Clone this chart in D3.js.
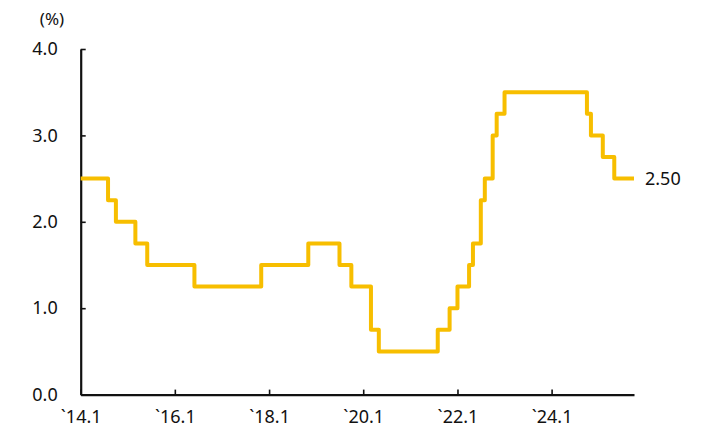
<!DOCTYPE html>
<html><head><meta charset="utf-8">
<script src="https://cdn.jsdelivr.net/npm/d3@7"></script>
<style>
body{margin:0;background:#fff;}
text{font-family:"Noto Sans","Open Sans",sans-serif;fill:#111;}
</style></head>
<body><svg id="c" width="707" height="443"></svg>
<script>
// Base rate (%) change points, by month "YYYY-MM"
const changeMonths = ["2014-01","2014-08","2014-10","2015-03","2015-06","2016-06","2017-11","2018-11","2019-07","2019-10","2020-03","2020-05","2021-08","2021-11","2022-01","2022-04","2022-05","2022-07","2022-08","2022-10","2022-11","2023-01","2024-10","2024-11","2025-02","2025-05","2025-10"];
const rates = [2.50,2.25,2.00,1.75,1.50,1.25,1.50,1.75,1.50,1.25,0.75,0.50,0.75,1.00,1.25,1.50,1.75,2.25,2.50,3.00,3.25,3.50,3.25,3.00,2.75,2.50,2.50];
const xTickMonths = ["2014-01","2016-01","2018-01","2020-01","2022-01","2024-01"];
const xTickLabels = ["`14.1","`16.1","`18.1","`20.1","`22.1","`24.1"];
const yTicks = [0,1,2,3,4];
const lastLabel = "2.50";
const unitLabel = "(%)";

const parse = d3.timeParse("%Y-%m");
const data = changeMonths.map((m,i)=>({d:parse(m), v:rates[i]}));

const svg = d3.select("#c");
const x = d3.scaleTime().domain([parse("2014-01"), parse("2025-10")]).range([80.7, 634]);
const y = d3.scaleLinear().domain([0,4]).range([394.6, 49]);

// y axis
const yAx = svg.append("g").attr("transform","translate(80.7,0)")
  .call(d3.axisLeft(y).tickValues(yTicks).tickFormat(d3.format(".1f")).tickSize(-5).tickSizeOuter(0).tickPadding(23));
yAx.selectAll("text").style("font-size","18px");
// x axis
const xAx = svg.append("g").attr("transform","translate(0,394.6)")
  .call(d3.axisBottom(x).tickValues(xTickMonths.map(parse)).tickFormat((d,i)=>xTickLabels[i]).tickSize(-5).tickSizeOuter(0).tickPadding(16));
xAx.selectAll("text").style("font-size","18px");
svg.selectAll(".domain").attr("stroke","#111").attr("stroke-width",2.2);
svg.selectAll(".tick line").attr("stroke","#111").attr("stroke-width",1.6);

// unit
svg.append("text").attr("x",52).attr("y",25).attr("text-anchor","middle").style("font-size","17px").text(unitLabel);

// line
const line = d3.line().x(d=>x(d.d)).y(d=>y(d.v)).curve(d3.curveStepAfter);
svg.append("path").datum(data).attr("d",line).attr("fill","none")
  .attr("stroke","#F7BE00").attr("stroke-width",4).attr("stroke-linejoin","round");

const last = data[data.length-1];
svg.append("text").attr("x",x(last.d)+11).attr("y",y(last.v)).attr("dy","0.35em")
  .style("font-size","18px").text(lastLabel);
</script></body></html>
